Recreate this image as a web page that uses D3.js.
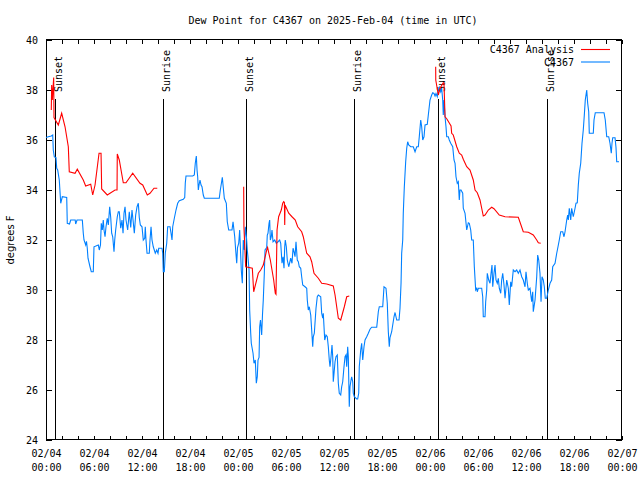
<!DOCTYPE html>
<html><head><meta charset="utf-8">
<script src="https://cdn.jsdelivr.net/npm/d3@7"></script>
<style>
body{margin:0;background:#fff;}
svg{display:block;}
text{font-family:"DejaVu Sans Mono",monospace;font-size:10px;fill:#000;}
</style></head>
<body>
<script>
// ---- data (hours after 2025-02-04 00:00 UTC) ----
const titleText = "Dew Point for C4367 on 2025-Feb-04 (time in UTC)";
const yLabelText = "degrees F";
const seriesNames = ["C4367 Analysis", "C4367"];
const seriesColors = ["#ff0000", "#0080ff"];
const yTicks = [24, 26, 28, 30, 32, 34, 36, 38, 40];
const sunHours = [1.17, 14.66, 25.06, 38.54, 49.04, 62.58];
const sunLabels = ["Sunset", "Sunrise", "Sunset", "Sunrise", "Sunset", "Sunrise"];

const redHours = [0.66,0.71,0.79,0.96,1.00,1.54,1.96,2.38,2.79,2.91,3.63,3.91,4.66,4.96,5.59,5.84,6.13,6.63,6.88,6.96,7.66,8.63,8.88,8.91,9.16,9.66,10.0,10.84,11.75,12.09,12.66,13.0,13.5,13.91,
 14.0,
 24.71,24.74,24.96,25.79,25.96,26.54,26.84,27.16,27.59,27.70,28.04,28.46,28.66,28.75,28.88,29.08,29.41,29.59,29.71,29.80,29.84,29.88,30.34,30.75,31.16,31.46,31.96,32.16,32.59,33.0,33.21,33.5,34.04,34.46,35.09,35.91,36.13,36.54,36.84,37.29,37.59,37.91,
 38.0,
 48.71,48.72,49.04,49.25,49.66,49.75,49.88,50.09,50.63,50.71,50.91,51.34,51.66,51.96,52.16,52.59,53.0,53.41,53.63,53.91,54.25,54.66,54.88,55.29,55.71,56.0,56.66,57.38,59.04,59.66,60.29,60.91,61.34,61.54,61.84];
const redValues = [37.2,38.2,37.6,38.5,36.9,36.6,37.07,36.53,35.73,34.73,34.67,34.83,34.4,34.16,34.23,33.8,34.2,35.47,35.47,34.04,33.8,34.0,34.0,35.44,35.2,34.29,34.29,34.67,34.27,34.2,33.8,33.87,34.07,34.07,
 null,
 34.13,32.53,30.93,30.87,29.93,30.67,30.8,31.0,31.6,31.7,31.2,30.4,29.87,29.83,32.4,32.93,33.2,33.47,33.53,33.5,32.6,33.4,33.07,32.93,32.8,32.53,32.33,32.13,31.47,31.33,31.13,30.67,30.47,30.27,30.24,30.16,29.8,28.87,28.8,29.33,29.73,29.76,
 null,
 38.93,38.4,37.8,38.07,38.29,38.25,36.93,36.85,36.56,36.27,36.2,35.73,35.47,35.4,35.23,34.93,34.8,34.4,34.0,33.89,33.6,32.96,33.0,33.2,33.31,33.25,33.0,32.93,32.91,32.33,32.31,32.2,32.0,31.89,31.87];

const blueHours = [0,0.29,0.66,0.84,0.91,1.04,1.25,1.34,1.46,1.66,1.84,2.04,2.59,2.66,2.94,3.09,3.65,3.71,3.88,4.54,4.66,4.75,4.96,5.06,5.16,5.25,5.50,5.66,5.91,6.00,6.54,6.66,6.81,6.91,7.04,7.16,7.25,7.38,7.50,7.66,7.79,7.96,8.09,8.21,8.34,8.50,8.59,8.71,8.91,9.04,9.16,9.34,9.50,9.63,9.75,9.88,10.00,10.21,10.41,10.59,10.75,10.88,11.04,11.21,11.38,11.54,11.66,11.79,12.00,12.16,12.34,12.41,12.50,12.63,12.91,13.00,13.13,13.25,13.41,13.66,13.84,14.00,14.09,14.50,14.59,14.66,14.79,14.91,15.09,15.21,15.50,15.63,15.75,15.84,16.04,16.25,16.46,16.66,17.16,17.34,17.41,17.50,18.34,18.54,18.66,18.79,18.88,18.96,19.04,19.13,19.25,19.38,19.50,19.66,19.79,21.66,21.79,21.94,22.04,22.16,22.29,22.54,22.66,22.84,23.25,23.38,23.59,23.71,23.84,23.94,24.09,24.21,24.31,24.41,24.54,24.66,24.79,24.91,25.06,25.16,25.25,25.38,25.46,25.59,25.66,25.88,26.00,26.16,26.29,26.41,26.50,26.63,26.71,26.81,26.96,27.06,27.16,27.29,27.38,27.59,27.66,27.75,27.88,27.96,28.04,28.16,28.25,28.38,28.59,28.79,29.00,29.21,29.34,29.50,29.63,29.75,29.84,29.91,30.04,30.16,30.34,30.59,30.75,30.88,31.00,31.13,31.25,31.41,31.54,31.66,31.84,31.96,32.09,32.38,32.59,32.66,32.79,32.91,33.09,33.21,33.34,33.41,33.54,33.75,33.91,34.04,34.34,34.46,34.59,34.66,34.84,35.00,35.16,35.29,35.41,35.50,35.63,35.75,35.84,35.91,36.04,36.13,36.25,36.41,36.54,36.66,36.84,36.96,37.09,37.25,37.38,37.50,37.59,37.71,37.79,37.91,38.00,38.13,38.21,38.34,38.41,38.54,38.84,38.96,39.09,39.16,39.34,39.46,39.59,39.75,39.88,40.09,40.29,40.50,40.71,41.34,41.54,41.66,42.09,42.25,42.50,42.66,42.79,42.91,43.00,43.21,43.50,43.63,43.84,44.13,44.25,44.38,44.46,44.59,44.66,44.79,44.96,45.09,45.21,45.34,45.59,45.91,46.13,46.34,46.54,46.66,46.84,46.96,47.09,47.25,47.38,47.66,47.79,48.00,48.21,48.34,48.50,48.63,48.75,48.91,49.04,49.16,49.34,49.46,49.59,49.66,49.75,49.88,50.00,50.09,50.29,50.41,50.59,50.84,51.00,51.13,51.25,51.41,51.54,51.66,51.75,51.88,52.09,52.16,52.38,52.59,52.79,52.91,53.09,53.21,53.41,53.54,53.71,53.84,53.91,54.04,54.46,54.59,54.66,54.88,54.96,55.09,55.16,55.34,55.50,55.63,55.75,55.84,56.00,56.13,56.25,56.41,56.54,56.66,56.84,56.96,57.09,57.25,57.38,57.59,57.79,57.91,58.09,58.21,58.41,58.63,58.84,59.04,59.25,59.46,59.66,59.88,60.00,60.16,60.29,60.50,60.71,60.84,60.91,61.13,61.34,61.46,61.59,61.75,61.88,62.00,62.16,62.29,62.41,62.59,62.79,63.00,63.21,63.34,63.63,63.84,64.00,64.16,64.34,64.59,64.75,64.88,65.09,65.21,65.29,65.41,65.59,65.71,65.91,66.13,66.25,66.41,66.54,66.66,66.84,67.00,67.16,67.29,67.41,67.59,67.71,67.84,67.91,68.41,68.50,68.66,69.75,69.91,70.09,70.34,70.50,70.66,70.75,70.84,71.13,71.25,71.34,71.63];
const blueValues = [36.1,36.13,36.16,36.2,35.6,35.33,35.3,34.87,34.8,34.4,33.47,33.73,33.7,32.67,32.64,32.8,32.8,32.64,32.8,32.8,32.27,32.0,31.8,31.95,31.67,31.27,30.93,30.73,30.73,31.73,31.8,31.6,31.8,32.67,32.4,32.8,32.4,32.13,32.53,32.87,32.6,33.33,32.9,32.27,32.13,31.53,32.0,32.4,32.93,33.13,33.13,32.47,32.8,32.27,33.07,33.33,32.8,32.4,33.13,32.5,33.2,32.8,32.27,33.0,33.33,33.47,32.9,32.6,32.53,32.0,32.07,32.53,32.0,31.47,31.47,32.0,32.53,32.0,31.73,31.47,31.6,31.47,31.67,31.67,31.47,30.73,30.73,31.47,31.87,32.53,32.53,32.27,32.0,32.53,32.87,33.2,33.47,33.57,33.63,33.7,34.27,34.56,34.56,34.6,35.07,35.36,34.8,34.53,34.0,34.2,34.4,34.2,34.13,33.8,33.67,33.67,34.0,34.3,34.51,34.1,33.67,33.47,32.73,32.4,32.4,32.73,32.13,31.6,31.07,31.7,31.87,32.4,31.6,30.8,30.27,32.0,31.6,32.53,32.1,31.6,31.3,30.8,29.2,28.27,27.87,27.47,27.07,27.2,26.27,26.53,27.2,27.3,28.53,28.8,28.2,29.0,29.6,30.67,31.6,31.7,32.2,32.27,32.67,32.8,32.0,32.13,32.4,31.93,32.0,31.87,31.93,32.0,31.87,31.07,31.33,30.87,31.73,32.0,31.73,31.2,30.93,31.27,31.07,31.67,31.53,31.33,31.93,31.2,31.13,30.93,30.87,30.53,30.2,30.13,30.07,29.6,29.2,29.33,29.0,28.4,27.73,28.13,28.27,29.27,29.73,29.8,29.73,29.07,28.87,29.07,28.0,28.2,28.13,27.73,27.2,26.93,27.33,27.8,27.33,26.33,26.8,27.13,27.33,27.4,26.27,25.87,25.8,26.13,26.33,26.93,27.33,27.4,26.93,27.73,27.33,25.33,26.13,26.4,26.53,26.33,25.87,25.73,25.64,25.64,25.87,26.93,27.6,27.87,27.2,27.73,28.0,28.13,28.27,28.43,28.51,28.51,29.13,29.33,29.33,30.13,30.07,29.47,28.33,27.73,28.1,28.33,28.93,29.1,28.8,28.8,29.27,30.27,31.47,32.0,33.07,34.13,35.13,35.67,35.93,35.8,35.73,35.73,35.53,35.73,35.73,36.13,36.8,36.53,36.0,36.13,36.6,36.63,37.0,37.6,37.8,37.89,37.86,37.76,37.86,37.73,38.0,38.11,37.93,38.07,37.6,37.0,37.6,36.93,36.53,36.13,36.13,36.0,35.87,35.73,35.2,35.07,34.53,34.27,34.33,33.6,34.0,34.0,33.87,33.27,33.07,32.4,32.69,32.67,32.4,32.0,32.0,30.93,30.0,30.07,29.93,30.07,30.07,29.73,28.93,28.93,29.53,30.0,30.67,30.4,30.27,30.67,31.0,30.13,30.67,31.0,30.4,30.27,30.47,30.07,29.87,30.4,30.67,30.2,29.67,30.4,30.07,29.4,30.33,30.13,30.8,30.73,30.8,30.67,30.8,30.53,30.4,30.13,30.73,30.27,30.0,30.07,29.53,29.93,29.13,29.6,30.53,31.4,31.2,30.67,29.53,30.53,30.4,30.13,29.67,29.67,30.0,30.27,30.4,30.93,31.07,31.47,31.73,32.0,32.33,32.33,32.13,32.33,32.8,33.0,32.8,33.27,32.8,33.27,32.93,33.27,33.47,33.49,34.2,34.67,35.07,35.87,36.4,37.0,37.6,38.0,37.47,37.13,36.27,36.27,36.8,37.09,37.09,36.8,36.13,36.13,35.87,35.47,35.87,36.09,36.09,35.7,35.13,35.13];

// ---- drawing ----
const W = 640, H = 480;
const t0 = Date.UTC(2025, 1, 4);
const toDate = h => new Date(t0 + h * 3600e3);
const pL = 46, pR = 622, pT = 40, pB = 440;

const x = d3.scaleUtc().domain([toDate(0), toDate(72)]).range([pL, pR]);
const y = d3.scaleLinear().domain([24, 40]).range([pB, pT]);

const svg = d3.select("body").append("svg").attr("width", W).attr("height", H);

const majorTicks = d3.utcHour.every(6).range(toDate(0), toDate(72.01));
const minorTicks = d3.utcHour.every(2).range(toDate(0), toDate(72.01));
const fmtDate = d3.utcFormat("%m/%d"), fmtTime = d3.utcFormat("%H:%M");

// minor ticks bottom & top
svg.append("g").attr("transform", `translate(0,${pB})`)
  .call(d3.axisBottom(x).tickValues(minorTicks).tickSize(-4).tickFormat(""))
  .call(g => g.select(".domain").remove());
svg.append("g").attr("transform", `translate(0,${pT})`)
  .call(d3.axisTop(x).tickValues(minorTicks).tickSize(-4).tickFormat(""))
  .call(g => g.select(".domain").remove());

// major bottom with labels
const xg = svg.append("g").attr("transform", `translate(0,${pB})`)
  .call(d3.axisBottom(x).tickValues(majorTicks).tickSize(-4).tickPadding(0).tickFormat(""));
xg.select(".domain").remove();
xg.selectAll(".tick").each(function(d) {
  const t = d3.select(this).append("text").attr("text-anchor", "middle")
    .style("font-family", '"DejaVu Sans Mono",monospace').style("font-size", "10px").attr("fill", "#000");
  t.append("tspan").attr("x", 0).attr("y", 17).text(fmtDate(d));
  t.append("tspan").attr("x", 0).attr("y", 31).text(fmtTime(d));
});

// y axes
const yg = svg.append("g").attr("transform", `translate(${pL},0)`)
  .call(d3.axisLeft(y).tickValues(yTicks).tickSize(-6).tickPadding(8).tickFormat(d3.format("d")));
yg.select(".domain").remove();
yg.selectAll("text").style("font-family", '"DejaVu Sans Mono",monospace').style("font-size", "10px").attr("fill", "#000");
svg.append("g").attr("transform", `translate(${pR},0)`)
  .call(d3.axisRight(y).tickValues(yTicks).tickSize(-6).tickFormat(""))
  .call(g => g.select(".domain").remove());

svg.selectAll(".tick line").attr("stroke", "#000").attr("shape-rendering", "crispEdges");

// border
svg.append("rect").attr("x", pL + 0.5).attr("y", pT - 0.5)
  .attr("width", pR - pL - 1).attr("height", pB - pT)
  .attr("fill", "none").attr("stroke", "#000").attr("shape-rendering", "crispEdges");

// sun lines
const sunG = svg.append("g");
sunHours.forEach((h, i) => {
  const sx = Math.round(x(toDate(h))) + 0.5;
  sunG.append("line").attr("x1", sx).attr("x2", sx).attr("y1", 99).attr("y2", pB)
    .attr("stroke", "#000").attr("shape-rendering", "crispEdges");
  sunG.append("text").attr("transform", `translate(${sx + 6},92) rotate(-90)`)
    .attr("text-anchor", "start").text(sunLabels[i]);
});

// series
const line = d3.line().defined(d => d.v != null)
  .x(d => x(toDate(d.h))).y(d => y(d.v));
const redData = redHours.map((h, i) => ({h, v: redValues[i]}));
const blueData = blueHours.map((h, i) => ({h, v: blueValues[i]}));
svg.append("path").datum(blueData).attr("d", line)
  .attr("fill", "none").attr("stroke", seriesColors[1]).attr("stroke-width", 1.1);
svg.append("path").datum(redData).attr("d", line)
  .attr("fill", "none").attr("stroke", seriesColors[0]).attr("stroke-width", 1.1);

// legend
const legY = [49.5, 62];
seriesNames.forEach((n, i) => {
  svg.append("text").attr("x", 574).attr("y", legY[i]).attr("dy", "0.35em")
    .attr("text-anchor", "end").text(n);
  svg.append("line").attr("x1", 581).attr("x2", 610).attr("y1", legY[i]).attr("y2", legY[i])
    .attr("stroke", seriesColors[i]).attr("stroke-width", 1.1);
});

// title & y label
svg.append("text").attr("x", 333).attr("y", 20).attr("dy", "0.35em")
  .attr("text-anchor", "middle").text(titleText);
svg.append("text").attr("transform", "translate(14,240) rotate(-90)")
  .attr("text-anchor", "middle").style("font-family", '"DejaVu Sans",sans-serif')
  .text(yLabelText);
</script>
</body></html>
